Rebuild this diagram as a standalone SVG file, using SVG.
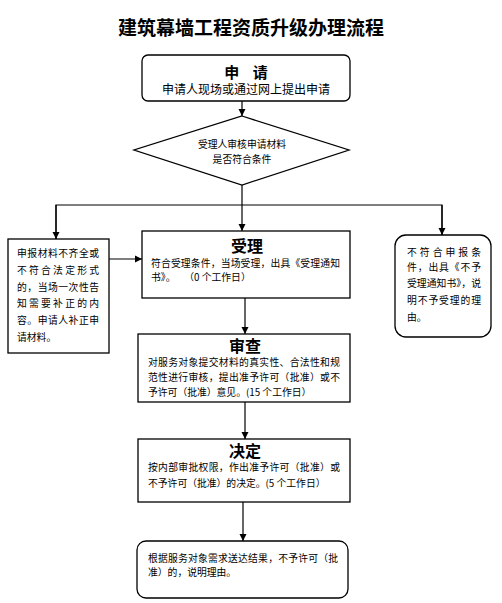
<svg xmlns="http://www.w3.org/2000/svg" width="502" height="603" viewBox="0 0 502 603">
<defs>
<marker id="arr" markerWidth="8" markerHeight="8" refX="7" refY="4" orient="auto" markerUnits="userSpaceOnUse">
<path d="M0,0.5 L7,4 L0,7.5 Z" fill="#000"/>
</marker>
<style>
.box{fill:#fff;stroke:#000;stroke-width:1.3}
.ln{fill:none;stroke:#000;stroke-width:1.2}
.t{font-family:"Noto Sans CJK SC","Noto Sans",sans-serif;fill:#000}
.s{font-size:9.8px}
.h{font-size:16px;font-weight:bold}
</style>
</defs>
<rect width="502" height="603" fill="#fff"/>
<text class="t" x="251" y="35" font-size="19" font-weight="bold" text-anchor="middle">建筑幕墙工程资质升级办理流程</text>

<g id="connectors">
<line class="ln" x1="242" y1="101" x2="242" y2="116" marker-end="url(#arr)"/>
<line class="ln" x1="242" y1="185" x2="242" y2="231" marker-end="url(#arr)"/>
<polyline class="ln" points="56,239 56,205 442,205 442,235"/>
<line class="ln" x1="56" y1="205" x2="56" y2="239" marker-end="url(#arr)"/>
<line class="ln" x1="442" y1="205" x2="442" y2="235" marker-end="url(#arr)"/>
<line class="ln" x1="109" y1="259" x2="142" y2="259" marker-end="url(#arr)"/>
<line class="ln" x1="245" y1="298" x2="245" y2="334" marker-end="url(#arr)"/>
<line class="ln" x1="245" y1="402" x2="245" y2="439" marker-end="url(#arr)"/>
<line class="ln" x1="243" y1="502" x2="243" y2="541" marker-end="url(#arr)"/>
</g>

<g id="apply">
<rect class="box" x="142" y="55" width="208" height="46" rx="6"/>
<text class="t" x="246" y="78" font-size="15" font-weight="bold" text-anchor="middle" word-spacing="10">申 请</text>
<text class="t" x="246" y="94" font-size="12" text-anchor="middle">申请人现场或通过网上提出申请</text>
</g>

<g id="check">
<polygon class="box" points="242,116 349,150 242,185 134,150"/>
<text class="t s" x="242" y="148" text-anchor="middle">受理人审核申请材料</text>
<text class="t s" x="242" y="163" text-anchor="middle">是否符合条件</text>
</g>

<g id="supplement">
<rect class="box" x="8" y="239" width="101" height="114"/>
<text class="t s" x="17" y="257" textLength="82" lengthAdjust="spacing">申报材料不齐全或</text>
<text class="t s" x="17" y="274" textLength="82" lengthAdjust="spacing">不符合法定形式</text>
<text class="t s" x="17" y="291" textLength="82" lengthAdjust="spacing">的，当场一次性告</text>
<text class="t s" x="17" y="307" textLength="82" lengthAdjust="spacing">知需要补正的内</text>
<text class="t s" x="17" y="324" textLength="82" lengthAdjust="spacing">容。申请人补正申</text>
<text class="t s" x="17" y="341">请材料。</text>
</g>

<g id="accept">
<rect class="box" x="142" y="231" width="208" height="67"/>
<text class="t h" x="247" y="252" text-anchor="middle">受理</text>
<text class="t s" x="151" y="267" textLength="189" lengthAdjust="spacing">符合受理条件，当场受理，出具《受理通知</text>
<text class="t s" x="151" y="281" xml:space="preserve">书》。    （0 个工作日）</text>
</g>

<g id="reject">
<rect class="box" x="395" y="235" width="96" height="102" rx="11"/>
<text class="t s" x="407" y="256" textLength="74" lengthAdjust="spacing">不符合申报条</text>
<text class="t s" x="407" y="271" textLength="74" lengthAdjust="spacing">件，出具《不予</text>
<text class="t s" x="407" y="287" textLength="74" lengthAdjust="spacing">受理通知书》，说</text>
<text class="t s" x="407" y="304" textLength="74" lengthAdjust="spacing">明不予受理的理</text>
<text class="t s" x="407" y="321">由。</text>
</g>

<g id="review">
<rect class="box" x="138" y="334" width="212" height="68"/>
<text class="t h" x="245" y="352" text-anchor="middle">审查</text>
<text class="t s" x="148" y="366" textLength="192" lengthAdjust="spacing">对服务对象提交材料的真实性、合法性和规</text>
<text class="t s" x="148" y="381" textLength="192" lengthAdjust="spacing">范性进行审核，提出准予许可（批准）或不</text>
<text class="t s" x="148" y="396">予许可（批准）意见。(15 个工作日）</text>
</g>

<g id="decide">
<rect class="box" x="138" y="439" width="212" height="63"/>
<text class="t h" x="245" y="457" text-anchor="middle">决定</text>
<text class="t s" x="148" y="471" textLength="192" lengthAdjust="spacing">按内部审批权限，作出准予许可（批准）或</text>
<text class="t s" x="148" y="487">不予许可（批准）的决定。(5 个工作日）</text>
</g>

<g id="deliver">
<rect class="box" x="137" y="541" width="211" height="57" rx="9"/>
<text class="t s" x="148" y="562" textLength="190" lengthAdjust="spacing">根据服务对象需求送达结果，不予许可（批</text>
<text class="t s" x="148" y="576">准）的，说明理由。</text>
</g>
</svg>
